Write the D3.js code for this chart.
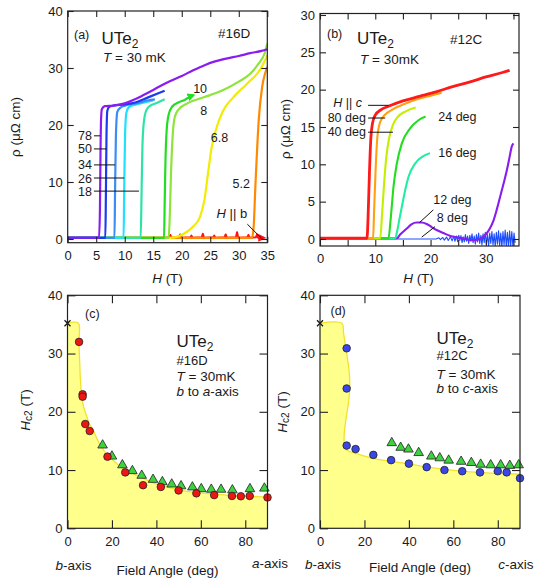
<!DOCTYPE html>
<html>
<head>
<meta charset="utf-8">
<script src="https://d3js.org/d3.v7.min.js"></script>
<style>
  body { margin: 0; background: #fff; }
  svg text { font-family: "Liberation Sans", Arial, Helvetica, sans-serif; fill: #1a1a1a; }
</style>
</head>
<body>
<svg id="fig" width="548" height="582"></svg>
<script>
// ---------- (a) sample #16D, field turned from b towards a ----------
// every curve: [H (T), rho (uOhm cm)]
const aAngles = ["0", "5.2", "6.8", "8", "10", "18", "26", "34", "50", "78"];
const aColors = ["#ff1010", "#ff8a00", "#f2ec00", "#8fe43a", "#22dd22", "#2fe3a4", "#1ee0ff", "#3a8cf6", "#1b3af2", "#8a1cf0"];
const a0 = [[0,0.2],[17,0.2],[17.8,0.3],[18,0.7],[18.2,0.2],[19.5,0.3],[19.7,0.8],[19.9,0.2],[21.5,0.3],[21.7,0.6],[21.9,0.2],[23.5,0.3],[23.7,0.9],[23.9,0.2],[25.5,0.3],[25.7,0.6],[25.9,0.2],[27.5,0.3],[27.7,0.8],[27.9,0.2],[29.5,0.3],[29.7,1.2],[29.9,0.2],[31.5,0.3],[31.7,0.7],[31.9,0.2],[33,0.3],[33.2,0.8],[33.4,0.2],[34.4,0.2]];
const a5p2 = [[0,0.2],[32.3,0.2],[32.6,2],[32.9,9],[33.5,20.9],[34.1,26.7],[34.6,29],[35,30.2]];
const a6p8 = [[0,0.2],[18,0.2],[19.5,0.5],[20.5,1.0],[22,2.2],[23.2,3.9],[24,7],[24.6,11.5],[25.2,15.8],[26,19.2],[27.2,22.4],[29,24.8],[31.5,27.3],[33.8,29.8],[35,32.2]];
const a8 = [[0,0.2],[17.7,0.2],[17.9,4],[18.1,11],[18.4,18],[18.8,21.5],[19.5,22.8],[21,23.8],[24,24.9],[26,25.6],[28,26.5],[30,27.6],[32,29],[33.5,30.8],[34.5,32.5],[35,34.3]];
const a10 = [[0,0.2],[16.9,0.2],[17.0,6],[17.15,14],[17.35,19],[17.7,21.8],[18.3,23.2],[19.5,24.0],[20.5,24.4],[21.5,25.0],[22,25.2]];
const a18 = [[0,0.2],[12.8,0.2],[12.95,8],[13.1,16],[13.35,20.5],[13.8,22.6],[14.5,23.4],[15.5,23.8],[17,24.5]];
const a26 = [[0,0.2],[9.8,0.2],[9.9,8],[10.05,18],[10.3,22.2],[10.8,23.2],[12,23.6],[14,24.1],[15,24.3]];
const a34 = [[0,0.2],[8.2,0.2],[8.3,8],[8.45,18],[8.7,22.3],[9.2,23.0],[10,23.4],[12,23.8],[14,24.3],[15.3,24.5]];
const a50 = [[0,0.2],[6.6,0.2],[6.7,8],[6.8,18],[6.95,22.5],[7.3,23.2],[8,23.4],[10,23.6],[12,24.0],[14,24.8],[16,25.6],[17,26.0]];
const a78 = [[0,0.25],[5.5,0.25],[5.65,5],[5.75,15],[5.85,21],[6.0,22.8],[6.5,23.3],[8,23.4],[10,23.8],[12,24.6],[14,25.6],[16,26.7],[18,27.7],[20,28.6],[22,29.6],[24,30.5],[26,31.2],[28,31.7],[30,32.1],[32,32.6],[34,33.0],[35,33.3]];
const aCurves = [a0, a5p2, a6p8, a8, a10, a18, a26, a34, a50, a78];
const aNoisy = ["0"];
const aXTicks = [0, 5, 10, 15, 20, 25, 30, 35];
const aYTicks = [0, 10, 20, 30, 40];

// ---------- (b) sample #12C, field turned from b towards c ----------
const bAngles = ["8", "12", "16", "24", "40", "80", "90"];
const bColors = ["#1a4cff", "#8a1cf0", "#22eea0", "#22dd22", "#c4ee00", "#ffa010", "#ff1a1a"];
const b8 = [[0,0],[21,0],[21.5,0.15],[21.8,-0.1],[22.2,0.2],[22.5,-0.15],[22.9,0.25],[23.2,-0.2],[23.6,0.3],[23.9,-0.25],[24.2,0.35],[24.4,-0.3],[24.7,0.4],[24.9,-0.35],[25.1,0.5],[25.3,-0.2],[25.5,0.45],[25.7,-0.5],[25.9,0.3],[26.1,-0.4],[26.3,0.6],[26.5,-0.3],[26.7,0.4],[26.9,-0.6],[27.1,0.5],[27.3,-0.3],[27.5,0.7],[27.7,-0.5],[27.9,0.4],[28.1,-0.7],[28.3,0.6],[28.5,-0.4],[28.7,0.8],[28.9,-0.6],[29.1,0.5],[29.3,-0.8],[29.5,0.7],[29.7,-0.5],[29.9,0.9],[30.1,-0.7],[30.3,0.6],[30.5,-0.9],[30.7,0.8],[30.9,-0.6],[31.1,1.0],[31.3,-0.8],[31.5,0.7],[31.7,-1.0],[31.9,0.9],[32.1,-0.7],[32.3,1.1],[32.5,-0.9],[32.7,0.8],[32.9,-1.1],[33.1,1.0],[33.3,-0.8],[33.5,1.2],[33.7,-1.0],[33.9,0.9],[34.1,-1.1],[34.3,1.1],[34.5,-0.9],[34.7,1.0],[34.9,-1.0],[35.1,0.8],[35.3,-0.5]];
const b12 = [[0,0.1],[13.9,0.1],[14.5,0.6],[15.7,1.4],[16.6,2.0],[17.5,2.2],[18.4,2.2],[19.3,2.0],[20.2,1.6],[21.1,1.2],[22.3,0.8],[23.6,0.4],[25,0.2],[26,0.05],[27.5,-0.15],[28.5,-0.1],[29.5,0.3],[30.2,0.8],[30.8,1.5],[31.4,2.5],[32,4],[32.6,5.7],[33.2,7.4],[33.8,9.2],[34.3,11],[34.7,12.4],[35,12.8]];
const b16 = [[0,0.1],[13.6,0.1],[14.0,1.2],[14.4,2.8],[14.8,4.3],[15.4,6.5],[16.0,8.3],[17.2,10.1],[18.7,11.1],[19.9,11.5]];
const b24 = [[0,0.1],[12.4,0.1],[12.7,2],[13.0,4.5],[13.3,7],[13.9,10.1],[14.8,12.8],[16.3,14.8],[17.8,15.9],[19.1,16.4]];
const b40 = [[0,0.1],[10.9,0.1],[11.2,3],[11.6,7.5],[12.0,11],[12.5,13.5],[13.2,15.3],[14,16.3],[15.5,17.1],[17.3,17.6]];
const b80 = [[0,0.1],[9.6,0.1],[9.8,4],[10.1,10],[10.4,13.8],[10.9,15.7],[11.7,16.6],[13,17.3],[15,18.0],[18,18.8],[20,19.2],[22,19.6]];
const b90 = [[0,0.1],[8.5,0.1],[8.7,3],[8.95,9],[9.2,13.5],[9.5,15.5],[10,16.6],[11,17.3],[12.5,17.8],[15,18.5],[18,19.1],[21,19.7],[24,20.4],[27,21.0],[30,21.7],[33,22.3],[34.3,22.6]];
const bCurves = [b8, b12, b16, b24, b40, b80, b90];
const bNoisy = ["8"];
const bXTicks = [0, 5, 10, 15, 20, 25, 30, 35];
const bXLabels = [0, 10, 20, 30];
const bYTicks = [0, 5, 10, 15, 20, 25, 30];

// ---------- (c) Hc2 vs angle, #16D ----------
const cAngleCirc = [5.2, 6.8, 6.8, 8, 10, 18, 26, 34, 42, 50, 58, 66, 74, 78, 82, 90];
const cHc2Circ = [32.0, 23.0, 22.6, 17.9, 16.7, 12.3, 9.6, 7.4, 7.1, 6.5, 6.0, 5.7, 5.55, 5.5, 5.55, 5.3];
const cAngleTri = [15.8, 20, 24.7, 29.2, 33.4, 38.5, 42.7, 46.9, 51.1, 56.2, 60.2, 64.7, 69.1, 74.2, 82.1, 88.6];
const cHc2Tri = [14.4, 12.5, 11.0, 10.0, 9.2, 8.5, 8.1, 7.7, 7.4, 7.2, 6.9, 6.8, 6.8, 6.7, 6.9, 7.0];
const cShade = [[0,35.2],[4.9,35.2],[5.1,32],[5.5,28.5],[5.8,25.5],[6.5,22.5],[7.3,20.8],[8.2,19.7],[9.8,18],[11.5,16.9],[13.2,15.4],[15.2,14.0],[18,12.6],[21.9,11.2],[26,10],[32.4,8.9],[38,7.9],[45.8,7.0],[53,6.4],[62.2,6.0],[72,5.7],[81,5.5],[90,5.35]];

// ---------- (d) Hc2 vs angle, #12C ----------
const dAngleCirc = [12, 12, 12, 16, 24, 32, 40, 48, 56, 64, 72, 80, 84, 90];
const dHc2Circ = [30.9, 24.0, 14.2, 13.6, 12.6, 11.7, 11.1, 10.5, 10.0, 9.8, 9.6, 9.8, 9.6, 8.6];
const dAngleTri = [32.3, 36.3, 39.8, 44.4, 50.1, 53.9, 57.9, 63.5, 68.1, 72.3, 76.8, 81.3, 85.4, 89.4];
const dHc2Tri = [14.8, 14.0, 13.7, 13.1, 12.5, 12.2, 11.8, 11.6, 11.4, 11.1, 11.0, 11.0, 10.9, 11.0];
const dShade = [[0,35.2],[9.8,35.2],[10.6,33.5],[11.6,31],[12.6,28.5],[13.3,26],[13.3,23.5],[12.6,21],[11.6,18.5],[10.9,16.3],[11.0,14.3],[11.8,13.5],[14,13.1],[16.5,12.8],[24,12.0],[37.5,11.2],[52.5,10.3],[67.5,9.7],[82.5,9.4],[90,9.3]];
const hc2Ticks = [0, 10, 20, 30, 40];
const angleTicks = [0, 20, 40, 60, 80];

const svg = d3.select("#fig");
const defs = svg.append("defs");

function arrowMarker(id, color) {
  defs.append("marker").attr("id", id)
    .attr("viewBox", "0 0 10 10").attr("refX", 7).attr("refY", 5)
    .attr("markerUnits", "userSpaceOnUse")
    .attr("markerWidth", 8).attr("markerHeight", 8).attr("orient", "auto")
    .append("path").attr("d", "M0,0 L10,5 L0,10 z").attr("fill", color);
}
arrowMarker("arrGreen", "#22dd22");
arrowMarker("arrRed", "#ff1010");

// one panel = scales + a clipped plot group
function panel(name, box, xd, yd) {
  const x = d3.scaleLinear().domain(xd).range([box.l, box.r]);
  const y = d3.scaleLinear().domain(yd).range([box.b, box.t]);
  const g = svg.append("g").attr("class", "panel-" + name);
  defs.append("clipPath").attr("id", "clip-" + name)
    .append("rect").attr("x", box.l).attr("y", box.t - 2)
    .attr("width", box.r - box.l + 1.5).attr("height", box.b - box.t + 2);
  const plot = g.append("g").attr("clip-path", `url(#clip-${name})`);
  return { x, y, g, plot, box };
}

// inward ticks on all four sides + the frame
function frame(P, o) {
  const { x, y, g, box } = P;
  const tl = o.tickLen;
  const fmt = o.xLabels ? (d => o.xLabels.includes(d) ? d : "") : (d => d);
  g.append("g").attr("transform", `translate(0,${box.b})`)
    .call(d3.axisBottom(x).tickValues(o.xTicks).tickSize(-tl).tickPadding(8).tickFormat(fmt));
  g.append("g").attr("transform", `translate(0,${box.t})`)
    .call(d3.axisTop(x).tickValues(o.xTicks).tickSize(-tl).tickFormat(""));
  g.append("g").attr("transform", `translate(${box.l},0)`)
    .call(d3.axisLeft(y).tickValues(o.yTicks).tickSize(-tl).tickPadding(5));
  g.append("g").attr("transform", `translate(${box.r},0)`)
    .call(d3.axisRight(y).tickValues(o.yTicks).tickSize(-tl).tickFormat(""));
  g.selectAll(".domain").remove();
  g.selectAll(".tick line").attr("stroke", "#222").attr("stroke-width", 1.1);
  g.selectAll(".tick text").attr("font-size", 13);
  g.append("rect")
    .attr("x", box.l).attr("y", box.t)
    .attr("width", box.r - box.l).attr("height", box.b - box.t)
    .attr("fill", "none").attr("stroke", "#222").attr("stroke-width", 1.2);
}

function txt(g, x, y, s, size, anchor) {
  return g.append("text").attr("x", x).attr("y", y)
    .attr("font-size", size || 13).attr("text-anchor", anchor || "start").text(s);
}
function leader(g, x1, y1, x2, y2) {
  return g.append("line").attr("x1", x1).attr("y1", y1).attr("x2", x2).attr("y2", y2)
    .attr("stroke", "#111").attr("stroke-width", 1);
}
function ute2(g, x, y) {
  const t = g.append("text").attr("x", x).attr("y", y).attr("font-size", 17);
  t.append("tspan").text("UTe");
  t.append("tspan").attr("dy", 4).attr("font-size", 12).text("2");
}
function italicLead(g, x, y, it, rest, size, anchor) {
  const t = g.append("text").attr("x", x).attr("y", y)
    .attr("font-size", size || 13).attr("text-anchor", anchor || "start");
  t.append("tspan").attr("font-style", "italic").text(it);
  t.append("tspan").text(rest);
  return t;
}
function yTitle(g, x, y, build) {
  const t = g.append("text").attr("transform", `translate(${x},${y}) rotate(-90)`)
    .attr("text-anchor", "middle").attr("dominant-baseline", "central").attr("font-size", 13.5);
  build(t);
}

// ================= (a) =================
const A = panel("a", { l: 67.7, r: 267.3, t: 11, b: 242.7 }, [0, 35], [-0.65, 40]);
{
  const line = d3.line().x(d => A.x(d[0])).y(d => A.y(d[1]));
  aCurves.forEach((pts, i) => {
    const noisy = aNoisy.includes(aAngles[i]);
    const p = A.plot.append("path")
      .attr("d", line.curve(noisy ? d3.curveLinear : d3.curveMonotoneX)(pts))
      .attr("fill", "none").attr("stroke", aColors[i])
      .attr("stroke-width", noisy ? 2.0 : 2.2).attr("stroke-linejoin", "round");
    if (aAngles[i] === "10") p.attr("marker-end", "url(#arrGreen)");
    if (aAngles[i] === "0") p.attr("marker-end", "url(#arrRed)");
  });
  // angle labels on the left with leader lines to the transitions
  const lab = ["78", "50", "34", "26", "18"];
  const labRho = [18.1, 15.8, 13.0, 10.7, 8.4];
  const labEnd = [5.7, 6.8, 8.3, 9.9, 12.5];
  lab.forEach((s, i) => {
    txt(A.g, A.x(4.25), A.y(labRho[i]) + 4.5, s, 12.5, "end");
    leader(A.g, A.x(4.6), A.y(labRho[i]), A.x(labEnd[i]), A.y(labRho[i]));
  });
  txt(A.g, A.x(22.0), A.y(25.7), "10", 12.5);
  txt(A.g, A.x(23.25), A.y(21.8), "8", 12.5);
  txt(A.g, A.x(25.1), A.y(17.1), "6.8", 12.5);
  txt(A.g, A.x(28.9), A.y(8.86), "5.2", 12.5);
  italicLead(A.g, A.x(26.1), A.y(3.7), "H", " || b", 13);
  leader(A.g, A.x(31.5), A.y(2.6), A.x(34.0), A.y(0.1));

  txt(A.g, 74, 39, "(a)", 12.5);
  ute2(A.g, 101.5, 43.5);
  italicLead(A.g, 103, 62, "T", " = 30 mK", 13.5);
  txt(A.g, 218, 37.5, "#16D", 13.5);

  frame(A, { tickLen: 6, xTicks: aXTicks, yTicks: aYTicks });
  italicLead(A.g, 167.5, 283, "H", " (T)", 13.5, "middle");
  yTitle(A.g, 15, 127, t => t.text("\u03c1 (\u03bc\u03a9 cm)"));
}

// ================= (b) =================
const B = panel("b", { l: 320, r: 519, t: 13.5, b: 246 }, [0, 36], [-0.94, 30.2]);
{
  const line = d3.line().x(d => B.x(d[0])).y(d => B.y(d[1]));
  bCurves.forEach((pts, i) => {
    const noisy = bNoisy.includes(bAngles[i]);
    B.plot.append("path")
      .attr("d", line.curve(noisy ? d3.curveLinear : d3.curveMonotoneX)(pts))
      .attr("fill", "none").attr("stroke", bColors[i])
      .attr("stroke-width", noisy ? 1.1 : (bAngles[i] === "90" ? 2.8 : 2.1))
      .attr("stroke-linejoin", "round");
  });
  // labels of the high-angle curves, left of the transitions
  const hi = [["", 17.9, 12.4, 17.7], ["80 deg", 16.2, 11.8, 15.7], ["40 deg", 14.3, 13.2, 13.8]];
  hi.forEach((h, i) => {
    if (i === 0) {
      const t = B.g.append("text").attr("x", B.x(7.6)).attr("y", B.y(h[3]))
        .attr("font-size", 12.5).attr("text-anchor", "end");
      t.append("tspan").attr("font-style", "italic").text("H");
      t.append("tspan").text(" || ");
      t.append("tspan").attr("font-style", "italic").text("c");
    } else {
      txt(B.g, B.x(8.3), B.y(h[3]), h[0], 12.5, "end");
    }
    leader(B.g, B.x(8.7), B.y(h[1]), B.x(h[2]), B.y(h[1]));
  });
  txt(B.g, B.x(21.4), B.y(15.8), "24 deg", 12.5);
  txt(B.g, B.x(21.4), B.y(11.0), "16 deg", 12.5);
  txt(B.g, B.x(20.5), B.y(4.7), "12 deg", 12.5);
  txt(B.g, B.x(21.1), B.y(2.3), "8 deg", 12.5);
  leader(B.g, B.x(20.5), B.y(3.9), B.x(18.0), B.y(2.2));
  leader(B.g, B.x(20.8), B.y(1.65), B.x(18.4), B.y(0.25));

  txt(B.g, 327, 37.5, "(b)", 12.5);
  ute2(B.g, 357, 43.5);
  italicLead(B.g, 360, 63.5, "T", " = 30mK", 13.5);
  txt(B.g, 450, 44, "#12C", 13.5);

  frame(B, { tickLen: 6, xTicks: bXTicks, xLabels: bXLabels, yTicks: bYTicks });
  italicLead(B.g, 418.5, 283, "H", " (T)", 13.5, "middle");
  yTitle(B.g, 285, 129, t => t.text("\u03c1 (\u03bc\u03a9 cm)"));
}

// ================= (c) / (d) =================
function angleHc2(name, box, shade, circA, circH, circColor, triA, triH) {
  const P = panel(name, box, [0, 90], [0, 40]);
  const shadeLine = d3.line().x(d => P.x(d[0])).y(d => P.y(d[1])).curve(d3.curveCatmullRom);
  const edge = shadeLine(shade);
  P.plot.append("path")
    .attr("d", edge + `L${P.x(90)},${P.y(0)}L${P.x(0)},${P.y(0)}Z`)
    .attr("fill", "#ffff8c").attr("stroke", "none");
  P.plot.append("path").attr("d", edge)
    .attr("fill", "none").attr("stroke", "#f2e22a").attr("stroke-width", 1.3);

  // x marker at H || b
  const mx = P.x(0), my = P.y(35.2);
  P.g.append("path").attr("d", `M${mx - 3},${my - 3}L${mx + 3},${my + 3}M${mx - 3},${my + 3}L${mx + 3},${my - 3}`)
    .attr("stroke", "#111").attr("stroke-width", 1.2);

  const tri = d3.symbol().type(d3.symbolTriangle).size(40);
  P.g.selectAll(".tri").data(triA.map((a, i) => [a, triH[i]])).join("path")
    .attr("class", "tri").attr("d", tri)
    .attr("transform", d => `translate(${P.x(d[0])},${P.y(d[1]) + 0.8})`)
    .attr("fill", "#3fd23f").attr("stroke", "#222").attr("stroke-width", 0.8);
  P.g.selectAll(".circ").data(circA.map((a, i) => [a, circH[i]])).join("circle")
    .attr("class", "circ")
    .attr("cx", d => P.x(d[0])).attr("cy", d => P.y(d[1])).attr("r", 3.8)
    .attr("fill", circColor).attr("stroke", "#222").attr("stroke-width", 0.8);

  frame(P, { tickLen: 8, xTicks: angleTicks, yTicks: hc2Ticks });
  return P;
}

const C = angleHc2("c", { l: 67.5, r: 267.5, t: 295.3, b: 528.3 }, cShade,
  cAngleCirc, cHc2Circ, "#ee1515", cAngleTri, cHc2Tri);
const D = angleHc2("d", { l: 320, r: 520, t: 295.3, b: 528.3 }, dShade,
  dAngleCirc, dHc2Circ, "#3a46e6", dAngleTri, dHc2Tri);

function hc2Title(t) {
  t.append("tspan").attr("font-style", "italic").text("H");
  t.append("tspan").attr("dy", 3).attr("font-size", 10).text("c2");
  t.append("tspan").attr("dy", -3).text(" (T)");
}
function axisNote(g, x, y, it, rest, anchor) {
  return italicLead(g, x, y, it, rest, 13.5, anchor);
}

txt(C.g, 85, 317.5, "(c)", 12.5);
ute2(C.g, 176.5, 347);
txt(C.g, 176.5, 365, "#16D", 13);
italicLead(C.g, 176.5, 380.5, "T", " = 30mK", 13.5);
{
  const t = C.g.append("text").attr("x", 176.5).attr("y", 395.5).attr("font-size", 13.5);
  t.append("tspan").attr("font-style", "italic").text("b");
  t.append("tspan").text(" to ");
  t.append("tspan").attr("font-style", "italic").text("a");
  t.append("tspan").text("-axis");
}
yTitle(C.g, 25, 410, hc2Title);
axisNote(C.g, 73.5, 569.5, "b", "-axis", "middle");
txt(C.g, 167.5, 575, "Field Angle (deg)", 13.5, "middle");
axisNote(C.g, 252, 567.5, "a", "-axis", "start");

txt(D.g, 330.5, 315, "(d)", 12.5);
ute2(D.g, 436.5, 343.5);
txt(D.g, 436.5, 359.5, "#12C", 13);
italicLead(D.g, 436.5, 378.5, "T", " = 30mK", 13.5);
{
  const t = D.g.append("text").attr("x", 436.5).attr("y", 393).attr("font-size", 13.5);
  t.append("tspan").attr("font-style", "italic").text("b");
  t.append("tspan").text(" to ");
  t.append("tspan").attr("font-style", "italic").text("c");
  t.append("tspan").text("-axis");
}
yTitle(D.g, 282, 412, hc2Title);
axisNote(D.g, 323, 568.5, "b", "-axis", "middle");
txt(D.g, 420, 572, "Field Angle (deg)", 13.5, "middle");
axisNote(D.g, 516, 568.5, "c", "-axis", "middle");
</script>
</body>
</html>
